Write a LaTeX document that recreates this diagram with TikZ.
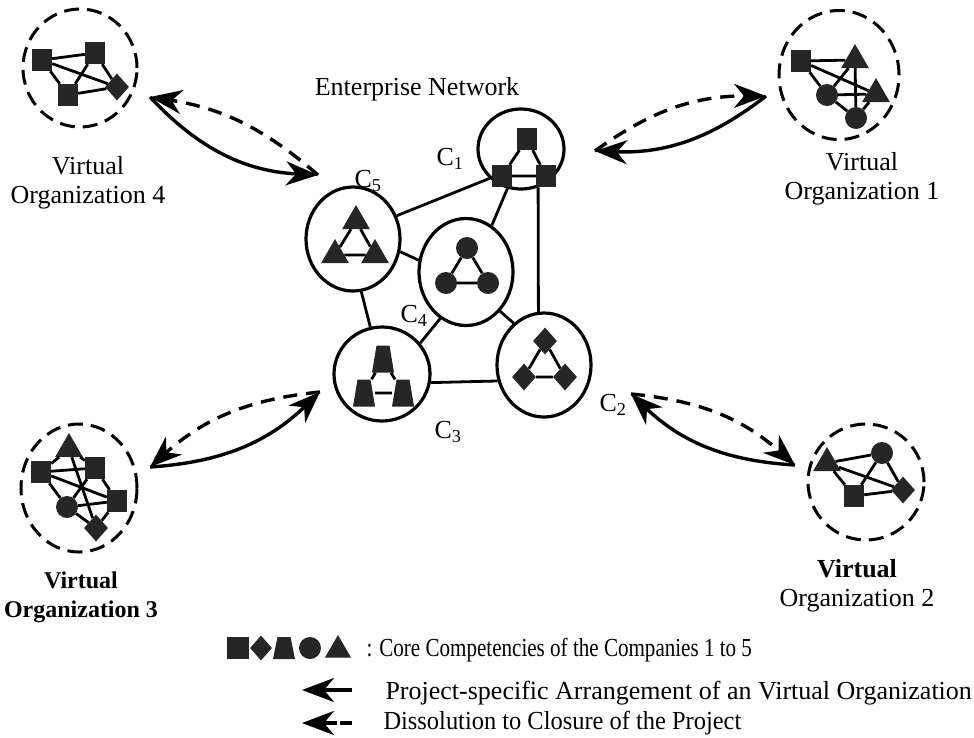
\documentclass[tikz,border=0pt]{standalone}
\usepackage{fontspec}
\usepackage{graphicx}
\setmainfont{Liberation Serif}
\usetikzlibrary{shapes.geometric,arrows.meta}

\begin{document}
\begin{tikzpicture}[x=1pt,y=-1pt,
  every node/.style={font=\fontsize{26}{29}\selectfont},
  firm/.style={draw, ellipse, line width=3.2pt, inner sep=0pt},
  vo/.style={draw, ellipse, line width=3pt, dash pattern=on 15pt off 8pt, inner sep=0pt},
  sq/.style={fill=black!85, rectangle, inner sep=0pt, minimum width=20pt, minimum height=22pt},
  dia/.style={fill=black!85, diamond, inner sep=0pt, minimum width=24pt, minimum height=27pt},
  trap/.style={rectangle, inner sep=0pt, minimum width=22pt, minimum height=27pt,
    path picture={\fill[black!85] (path picture bounding box.south west) -- (path picture bounding box.south east)
      -- ([xshift=-4.5pt]path picture bounding box.north east) -- ([xshift=4.5pt]path picture bounding box.north west) -- cycle;}},
  dot/.style={fill=black!85, circle, inner sep=0pt, minimum size=22pt},
  tri/.style={fill=black!85, regular polygon, regular polygon sides=3, inner sep=0pt, minimum size=32pt},
  link/.style={line width=2.8pt},
  go/.style={-{Stealth[length=32pt,width=24pt,inset=10pt]}, line width=3.4pt},
  back/.style={go, dash pattern=on 14pt off 9pt}
]
\useasboundingbox (0,0) rectangle (974,737);

% enterprise network
\node (en) at (417,89) {Enterprise Network};
\node[firm, minimum width=86pt, minimum height=80pt] (c1) at (521,149) {};
\node[firm, minimum width=94pt, minimum height=104pt] (c2) at (544,365) {};
\node[firm, minimum width=96pt, minimum height=94pt] (c3) at (382,374) {};
\node[firm, minimum width=94pt, minimum height=107pt] (c4) at (466,272) {};
\node[firm, minimum width=94pt, minimum height=104pt] (c5) at (353,239) {};
\draw[link] (c5.28) -- (c1.223);
\draw[link] (c1.251) -- (c4.61);
\draw[link] (c1.294) -- (c2.96);
\draw[link] (c5.345) -- (c4.166);
\draw[link] (c5.279) -- (c3.104);
\draw[link] (c4.241) -- (c3.39);
\draw[link] (c4.311) -- (c2.126);
\draw[link] (c3.350) -- (c2.199);
\node (l1) at (450,159) {C\textsubscript{1}};
\node (l2) at (613,405) {C\textsubscript{2}};
\node (l3) at (448,432) {C\textsubscript{3}};
\node (l4) at (414,316) {C\textsubscript{4}};
\node (l5) at (368,181) {C\textsubscript{5}};

% core competencies inside the companies
\node[sq] (c1a) at (527,139) {};
\node[sq] (c1b) at (502,176) {};
\node[sq] (c1c) at (546,176) {};
\draw[link] (c1a) -- (c1b) -- (c1c) -- (c1a);
\node[dia] (c2a) at (545,341) {};
\node[dia] (c2b) at (524,377) {};
\node[dia] (c2c) at (565,377) {};
\draw[link] (c2a) -- (c2b) -- (c2c) -- (c2a);
\node[trap] (c3a) at (383,359) {};
\node[trap] (c3b) at (364,393) {};
\node[trap] (c3c) at (403,393) {};
\draw[link] (c3a) -- (c3b) -- (c3c) -- (c3a);
\node[dot] (c4a) at (467,248) {};
\node[dot] (c4b) at (446,283) {};
\node[dot] (c4c) at (488,283) {};
\draw[link] (c4a) -- (c4b) -- (c4c) -- (c4a);
\node[tri] (c5a) at (356,221) {};
\node[tri] (c5b) at (335,255) {};
\node[tri] (c5c) at (375,255) {};
\draw[link] (c5a) -- (c5b) -- (c5c) -- (c5a);

% virtual organization 1
\node[vo, minimum width=120pt, minimum height=129pt] (v1) at (839,75) {};
\node[sq] (v1a) at (801,61) {};
\node[tri] (v1b) at (855,60) {};
\node[tri] (v1c) at (876,94) {};
\node[dot] (v1d) at (827,95) {};
\node[dot] (v1e) at (856,118) {};
\draw[link] (v1a) -- (v1b);
\draw[link] (v1a) -- (v1c);
\draw[link] (v1a) -- (v1d);
\draw[link] (v1b) -- (v1d);
\draw[link] (v1b) -- (v1e);
\draw[link] (v1d) -- (v1c);
\draw[link] (v1d) -- (v1e);
\draw[link] (v1c) -- (v1e);
\node[align=center] (t1) at (862,179) {Virtual\\Organization 1};

% virtual organization 2
\node[vo, minimum width=116pt, minimum height=116pt] (v2) at (866,482) {};
\node[tri] (v2a) at (827,463) {};
\node[dot] (v2b) at (882,453) {};
\node[sq] (v2c) at (854,496) {};
\node[dia] (v2d) at (903,490) {};
\draw[link] (v2a) -- (v2b);
\draw[link] (v2a) -- (v2c);
\draw[link] (v2a) -- (v2d);
\draw[link] (v2b) -- (v2c);
\draw[link] (v2b) -- (v2d);
\draw[link] (v2c) -- (v2d);
\node[align=center] (t2) at (857,586) {\textbf{Virtual}\\Organization 2};

% virtual organization 3
\node[vo, minimum width=116pt, minimum height=128pt] (v3) at (79,488) {};
\node[tri] (v3a) at (69,449) {};
\node[sq] (v3b) at (41,472) {};
\node[sq] (v3c) at (95,468) {};
\node[dot] (v3d) at (67,507) {};
\node[sq] (v3e) at (117,501) {};
\node[dia] (v3f) at (96,528) {};
\draw[link] (v3a) -- (v3b);
\draw[link] (v3a) -- (v3c);
\draw[link] (v3a) -- (v3f);
\draw[link] (v3b) -- (v3c);
\draw[link] (v3b) -- (v3e);
\draw[link] (v3b) -- (v3d);
\draw[link] (v3c) -- (v3d);
\draw[link] (v3c) -- (v3e);
\draw[link] (v3d) -- (v3e);
\draw[link] (v3d) -- (v3f);
\draw[link] (v3e) -- (v3f);
\node[align=center, font=\fontsize{24}{29}\selectfont\bfseries] (t3) at (81,597) {Virtual\\Organization 3};

% virtual organization 4
\node[vo, minimum width=114pt, minimum height=118pt] (v4) at (80,68) {};
\node[sq] (v4a) at (42,60) {};
\node[sq] (v4b) at (95,53) {};
\node[sq] (v4c) at (68,95) {};
\node[dia] (v4d) at (117,87) {};
\draw[link] (v4a) -- (v4b);
\draw[link] (v4a) -- (v4c);
\draw[link] (v4a) -- (v4d);
\draw[link] (v4b) -- (v4c);
\draw[link] (v4b) -- (v4d);
\draw[link] (v4c) -- (v4d);
\node[align=center] (t4) at (88,183) {Virtual\\Organization 4};

% arrangement and dissolution
\coordinate (n1) at (595,151);
\coordinate (o1) at (766,96);
\coordinate (n2) at (631,394);
\coordinate (o2) at (795,465);
\coordinate (n3) at (320,392);
\coordinate (o3) at (150,467);
\coordinate (n4) at (318,175);
\coordinate (o4) at (150,97);
\draw[back] (n1) to[bend left=18] (o1);
\draw[go] (o1) to[bend left=20] (n1);
\draw[back] (n2) to[bend left=18] (o2);
\draw[go] (o2) to[bend left=20] (n2);
\draw[back] (n3) to[bend right=18] (o3);
\draw[go] (o3) to[bend right=20] (n3);
\draw[back] (n4) to[bend right=16] (o4);
\draw[go] (o4) to[bend right=22] (n4);

% legend
\node[sq, minimum width=22pt, minimum height=22pt] (k1) at (238,648) {};
\node[dia, minimum width=22pt, minimum height=25pt] (k2) at (261,648) {};
\node[trap, minimum width=22pt, minimum height=22pt] (k3) at (284,648) {};
\node[dot, minimum size=22pt] (k4) at (310,648) {};
\node[tri, minimum size=30pt] (k5) at (338,650) {};
\node[anchor=west] (kt) at (363,650) {\scalebox{0.81}[1]{: Core Competencies of the Companies 1 to 5}};
\coordinate (a1) at (352,690);
\coordinate (b1) at (302,690);
\draw[go] (a1) -- (b1);
\node[anchor=west] (at) at (382,693) {Project-specific Arrangement of an Virtual Organization};
\coordinate (a2) at (352,723);
\coordinate (b2) at (302,723);
\draw[go, dash pattern=on 12pt off 3pt on 30pt] (a2) -- (b2);
\node[anchor=west] (bt) at (380,723) {\scalebox{0.94}[1]{Dissolution to Closure of the Project}};
\end{tikzpicture}
\end{document}
